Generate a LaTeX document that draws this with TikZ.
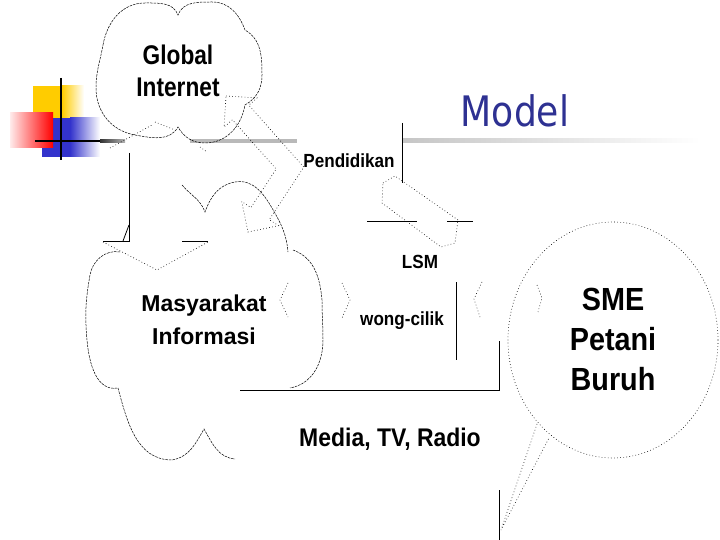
\documentclass[tikz,border=0pt]{standalone}
\usepackage{fontspec}
\setmainfont{Liberation Sans}
\newfontfamily\condfont[FakeStretch=0.84]{Liberation Sans}
\newfontfamily\semifont[FakeStretch=0.9]{Liberation Sans}
\newfontfamily\titlefont[FakeStretch=0.86]{DejaVu Sans}
\usepackage{xcolor}
\definecolor{modelblue}{RGB}{46,49,146}
\definecolor{decoyellow}{RGB}{255,204,0}
\definecolor{decoblue}{RGB}{51,51,204}
\definecolor{decored}{RGB}{255,0,0}
\tikzset{
  outline/.style={line width=0.5pt, dash pattern=on 2.5pt off 1pt},
  dotline/.style={line width=0.6pt, dash pattern=on 0.7pt off 2.4pt},
  solidline/.style={line width=0.8pt},
  lbl/.style={font=\semifont\bfseries\fontsize{19}{22}\selectfont, inner sep=0pt},
  bigtxt/.style={font=\bfseries\fontsize{23}{33}\selectfont, align=center, inner sep=0pt}
}
\begin{document}
\begin{tikzpicture}[x=1pt, y=-1pt]
\useasboundingbox (0,0) rectangle (720,540);
% slide decoration
\fill[decoyellow] (33,86) rectangle (62,118);
\shade[left color=decoyellow, right color=white] (62,86) rectangle (84,118);
\fill[decoblue] (42,118) rectangle (70,157);
\shade[left color=decoblue, right color=white] (70,118) rectangle (100,157);
\shade[left color=decored!8, right color=decored] (10,113) rectangle (53,148);
\draw[line width=2.5pt] (61,78) -- (61,160);
\draw[line width=2.5pt] (35,141) -- (100,141);
\shade[left color=black!80, right color=gray!60] (100,139.5) rectangle (125,142.5);
\fill[gray!55] (190,139) rectangle (297,143);
\shade[left color=gray!45, right color=white] (403,139) rectangle (700,143);
\node[font=\titlefont\fontsize{42}{46}\selectfont, text=modelblue, inner sep=0pt] (title) at (515,111) {Model};
% clouds
\draw[outline] (103,45) to[out=80,in=180] (145,3) to[out=0,in=110] (178,15)
  to[out=70,in=180] (212,2) to[out=0,in=110] (245,30) to[out=-30,in=90] (262,75)
  to[out=-90,in=30] (245,105) to[out=-100,in=0] (205,143) to[out=180,in=-60] (178,127)
  to[out=-120,in=-10] (135,135) to[out=170,in=-90] (96,88) to[out=90,in=-100] (103,45);
\node[bigtxt, font=\condfont\bfseries\fontsize{27}{32}\selectfont] (internet) at (178,71) {Global\\Internet};
\draw[outline] (120,252) to[out=170,in=80] (90,275) to[out=260,in=95] (87,340)
  to[out=275,in=190] (118,388) to[out=285,in=180] (172,460) to[out=10,in=240] (204,429)
  to[out=300,in=175] (235,459);
\draw[outline] (182,185) to[out=-50,in=110] (205,212) to[out=70,in=190] (235,182)
  to[out=10,in=120] (272,208) to[out=-60,in=95] (288,252);
\draw[outline] (293,250) to[out=-20,in=95] (322,300) to[out=-90,in=90] (323,340)
  to[out=-90,in=10] (290,388);
\node[bigtxt] (masyarakat) at (204,320) {Masyarakat\\Informasi};
% callout
\draw[dotline] (613,340) ellipse [x radius=105, y radius=118];
\draw[dotline] (537,424) -- (501,530) -- (549,438);
\node[bigtxt, font=\semifont\bfseries\fontsize{32}{40}\selectfont] (sme) at (613,339) {SME\\Petani\\Buruh};
% block arrows
\draw[dotline] (226,96) -- (257.1,97.9) -- (248.8,105.2) -- (303.8,167.1) -- (269.3,219.6)
  -- (278.5,225.7) -- (248,232) -- (241.7,201.5) -- (250.9,207.6) -- (276.2,169)
  -- (232.4,119.8) -- (224.1,127.1) -- cycle;
\draw[dotline] (383,183) -- (395,176) -- (458,220) -- (455,243) -- (441,247) -- (382,203) -- cycle;
\draw[dotline] (110,148) -- (152,125);
\draw[dotline] (155,122) -- (175,130);
\draw[dotline] (200,147) -- (207,152);
\draw[dotline] (103,242) -- (157,270) -- (208,242);
\draw[dotline] (288,283) -- (280,300) -- (288,317);
\draw[dotline] (342,283) -- (350,300) -- (342,318);
\draw[dotline] (482,282) -- (474,299) -- (480,317);
\draw[dotline] (537,285) -- (542,298) -- (538,312);
% solid rules
\draw[solidline] (129,153) -- (129,241) -- (103,241);
\draw[solidline] (129,225) -- (123,241);
\draw[solidline] (182,241) -- (208,241);
\draw[solidline] (402,123) -- (402,183);
\draw[solidline] (367,221) -- (417,221);
\draw[solidline] (447,221) -- (473,221);
\draw[solidline] (456,282) -- (456,360);
\draw[solidline] (240,390) -- (499,390) -- (499,341);
\draw[solidline] (499,490) -- (499,540);
% labels
\node[lbl] (pendidikan) at (349,161) {Pendidikan};
\node[lbl] (lsm) at (420,262) {LSM};
\node[lbl] (wong) at (402,321) {wong-cilik};
\node[lbl, font=\semifont\bfseries\fontsize{25.5}{28}\selectfont] (media) at (390,439) {Media, TV, Radio};
\end{tikzpicture}
\end{document}
